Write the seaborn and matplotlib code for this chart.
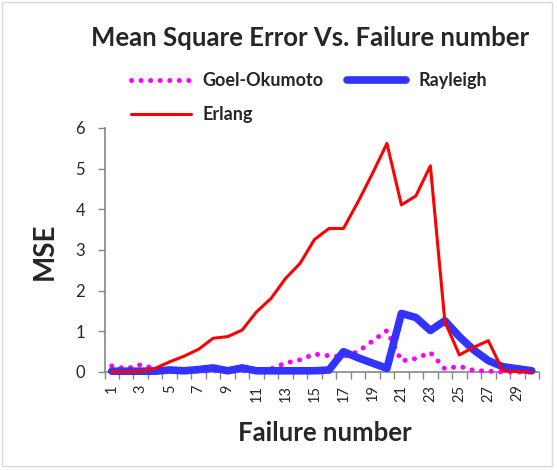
import numpy as np
import pandas as pd
import matplotlib
matplotlib.use("Agg")
import matplotlib.pyplot as plt
import seaborn as sns
from matplotlib.patches import Rectangle

failure = list(range(1, 31))
goel_okumoto = [0.15, 0.08, 0.18, 0.08, 0.03, 0.02, 0.02, 0.03, 0.02, 0.03,
                0.02, 0.08, 0.22, 0.30, 0.44, 0.40, 0.38, 0.50, 0.76, 1.02,
                0.27, 0.33, 0.48, 0.08, 0.14, 0.04, 0.02, 0.00, 0.00, 0.00]
rayleigh = [0.02, 0.02, 0.02, 0.02, 0.05, 0.03, 0.06, 0.10, 0.03, 0.10,
            0.03, 0.03, 0.03, 0.03, 0.03, 0.05, 0.50, 0.35, 0.22, 0.09,
            1.44, 1.34, 1.02, 1.26, 0.87, 0.54, 0.28, 0.13, 0.08, 0.03]
erlang = [0.01, 0.01, 0.02, 0.09, 0.25, 0.39, 0.56, 0.83, 0.87, 1.03,
          1.48, 1.81, 2.30, 2.67, 3.26, 3.53, 3.53, 4.18, 4.88, 5.62,
          4.11, 4.33, 5.07, 1.24, 0.42, 0.61, 0.77, 0.03, 0.01, 0.00]
series_names = ["Goel-Okumoto", "Rayleigh", "Erlang"]
y_ticks = [0, 1, 2, 3, 4, 5, 6]
x_tick_labels = [str(v) for v in failure if v % 2 == 1]

sns.set_theme(style="white")
plt.rcParams['font.family'] = ['Lato', 'DejaVu Sans']

fig = plt.figure(figsize=(5.57, 4.70), dpi=100)
ax = fig.add_axes([104.5 / 557, 1 - 372 / 470, (539 - 104.5) / 557, (372 - 128) / 470])

df = pd.DataFrame({"Failure": failure, "Goel-Okumoto": goel_okumoto,
                   "Rayleigh": rayleigh, "Erlang": erlang})

sns.lineplot(data=df, x="Failure", y="Goel-Okumoto", ax=ax, color="#FF00FF",
             linewidth=3.6, linestyle=(0, (0.01, 1.9)), dash_capstyle="round",
             label=series_names[0], clip_on=False, zorder=3)
sns.lineplot(data=df, x="Failure", y="Rayleigh", ax=ax, color="#3333FF",
             linewidth=5.5, solid_capstyle="round", solid_joinstyle="round",
             label=series_names[1], clip_on=False, zorder=4)
sns.lineplot(data=df, x="Failure", y="Erlang", ax=ax, color="#FF0000",
             linewidth=2.2, label=series_names[2], clip_on=False, zorder=5)

ax.set_xlim(0.5, 30.5)
ax.set_ylim(0, 6)
ax.set_xlabel("")
ax.set_ylabel("")

# category boundaries as tick marks, labels at odd categories
ax.set_xticks(np.arange(0.5, 31, 1.0))
ax.set_xticklabels([])
ax.tick_params(axis="x", which="major", length=5, width=1, color="#868686",
               direction="out", bottom=True)
odd = [v for v in failure if v % 2 == 1]
ax.set_xticks(odd, minor=True)
ax.set_xticklabels(x_tick_labels, minor=True, rotation=90, va="top",
                   fontsize=10.5)
ax.tick_params(axis="x", which="minor", length=0, pad=9, bottom=True)

ax.set_yticks(y_ticks)
ax.set_yticklabels([str(v) for v in y_ticks], fontsize=12)
ax.tick_params(axis="y", length=5, width=1, color="#868686", direction="out",
               left=True, pad=9)

for s in ["top", "right"]:
    ax.spines[s].set_visible(False)
for s in ["left", "bottom"]:
    ax.spines[s].set_color("#868686")
    ax.spines[s].set_linewidth(1.2)
ax.grid(False)

handles, labels = ax.get_legend_handles_labels()
ax.get_legend().remove()
order = [0, 2, 1]
fig.legend([handles[i] for i in order], [labels[i] for i in order],
           loc="upper left", bbox_to_anchor=(131 / 557, 1 - 72 / 470),
           ncol=2, frameon=False, handlelength=3.3,
           handletextpad=0.65, columnspacing=1.3, labelspacing=0.95,
           borderpad=0, borderaxespad=0, prop={"weight": "bold", "size": 13})

fig.text(310 / 557, 1 - 38 / 470, "Mean Square Error Vs. Failure number",
         ha="center", va="center", fontsize=18.5, fontweight="bold")
fig.text(325 / 557, 1 - 433 / 470, "Failure number", ha="center",
         va="center", fontsize=18.5, fontweight="bold")
fig.text(45 / 557, 1 - 251 / 470, "MSE", ha="center", va="center",
         rotation=90, fontsize=20, fontweight="bold")

fig.patches.append(Rectangle((2 / 557, 4 / 470), 550 / 557, 464 / 470,
                             transform=fig.transFigure, fill=False,
                             edgecolor="#D9D9D9", linewidth=1))

fig.savefig("out.png", dpi=100)
